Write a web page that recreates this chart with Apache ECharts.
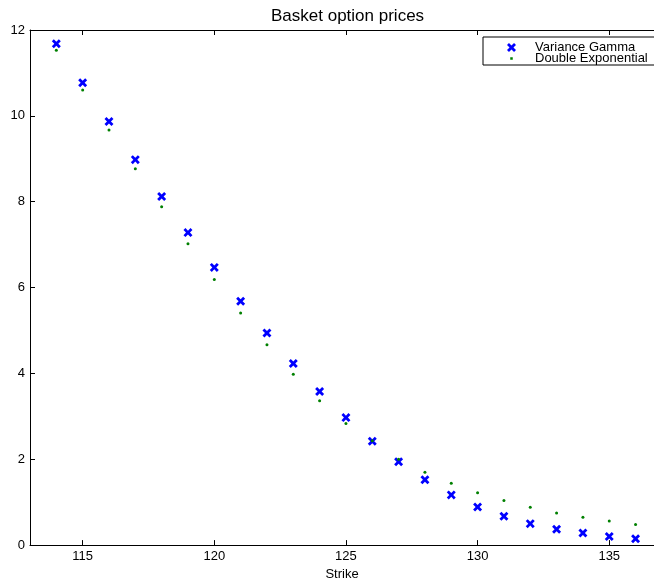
<!DOCTYPE html>
<html>
<head>
<meta charset="utf-8">
<script src="https://cdn.jsdelivr.net/npm/echarts@6/dist/echarts.min.js"></script>
<style>html,body{margin:0;padding:0;background:#fff}#c{width:654px;height:586px}</style>
</head>
<body>
<div id="c"></div>
<script>
var strikes = [114,115,116,117,118,119,120,121,122,123,124,125,126,127,128,129,130,131,132,133,134,135,136];
var varianceGamma = [11.68,10.77,9.87,8.98,8.12,7.28,6.47,5.68,4.94,4.23,3.58,2.97,2.42,1.94,1.52,1.17,0.89,0.67,0.50,0.37,0.28,0.20,0.15];
var doubleExponential = [11.53,10.60,9.67,8.77,7.88,7.02,6.19,5.41,4.67,3.98,3.36,2.83,2.43,2.00,1.70,1.44,1.22,1.04,0.88,0.75,0.65,0.56,0.48];
var xTicks = [115,120,125,130,135];
var yTicks = [0,2,4,6,8,10,12];
var seriesNames = ['Variance Gamma','Double Exponential'];

var font = "'Liberation Sans', Arial, Helvetica, sans-serif";
var xPath = 'path://M0,2.2L2.2,0L5,2.8L7.8,0L10,2.2L7.2,5L10,7.8L7.8,10L5,7.2L2.2,10L0,7.8L2.8,5Z';
var dotLegend = 'path://M0,0M10,10M3.6,3.6L6.4,3.6L6.4,6.4L3.6,6.4Z';

function pairs(xs, ys){ return xs.map(function(x,i){return [x, ys[i]];}); }

var chart = echarts.init(document.getElementById('c'), null, {renderer:'canvas'});
chart.setOption({
  animation: false,
  backgroundColor: '#fff',
  textStyle: {fontFamily: font},
  title: {
    text: 'Basket option prices',
    left: 266, top: 3,
    textStyle: {fontFamily: font, fontSize: 17, fontWeight: 'normal', color: '#000'}
  },
  legend: {
    left: 483, top: 37,
    orient: 'vertical',
    padding: [4, 40, 0, 24],
    itemGap: -2,
    itemWidth: 37, itemHeight: 9,
    backgroundColor: '#fff',
    borderColor: '#000', borderWidth: 1, borderRadius: 0,
    textStyle: {fontFamily: font, fontSize: 13, color: '#000'},
    data: [
      {name: seriesNames[0], icon: xPath},
      {name: seriesNames[1], icon: dotLegend}
    ]
  },
  grid: {left: 30, right: 0, top: 30, bottom: 40, containLabel: false},
  xAxis: [{
    type: 'value', min: 113, max: 136.7, position: 'bottom',
    name: 'Strike', nameLocation: 'middle', nameGap: 22,
    nameTextStyle: {fontFamily: font, fontSize: 13, color: '#000'},
    axisLine: {show: true, lineStyle: {color: '#000', width: 1}},
    axisTick: {show: true, inside: true, length: 5, customValues: xTicks, lineStyle: {color: '#000'}},
    axisLabel: {customValues: xTicks, fontFamily: font, fontSize: 13, color: '#000', margin: 5},
    splitLine: {show: false}
  },{
    type: 'value', min: 113, max: 136.7, position: 'top',
    axisLine: {show: true, lineStyle: {color: '#000', width: 1}},
    axisTick: {show: true, inside: true, length: 5, customValues: xTicks, lineStyle: {color: '#000'}},
    axisLabel: {show: false},
    splitLine: {show: false}
  }],
  yAxis: {
    type: 'value', min: 0, max: 12, interval: 2,
    axisLine: {show: true, lineStyle: {color: '#000', width: 1}},
    axisTick: {show: true, inside: true, length: 5, lineStyle: {color: '#000'}},
    axisLabel: {fontFamily: font, fontSize: 13, color: '#000', margin: 5,
      formatter: function(v){ return yTicks.indexOf(v) >= 0 ? String(v) : ''; }},
    splitLine: {show: false}
  },
  series: [{
    name: seriesNames[0], type: 'scatter', xAxisIndex: 0,
    symbol: xPath, symbolSize: 9,
    itemStyle: {color: '#0000ff', opacity: 1},
    data: pairs(strikes, varianceGamma), z: 3
  },{
    name: seriesNames[1], type: 'scatter', xAxisIndex: 0,
    symbol: 'circle', symbolSize: 3,
    itemStyle: {color: '#008000', opacity: 1},
    data: pairs(strikes, doubleExponential), z: 4
  }]
});
</script>
</body>
</html>
